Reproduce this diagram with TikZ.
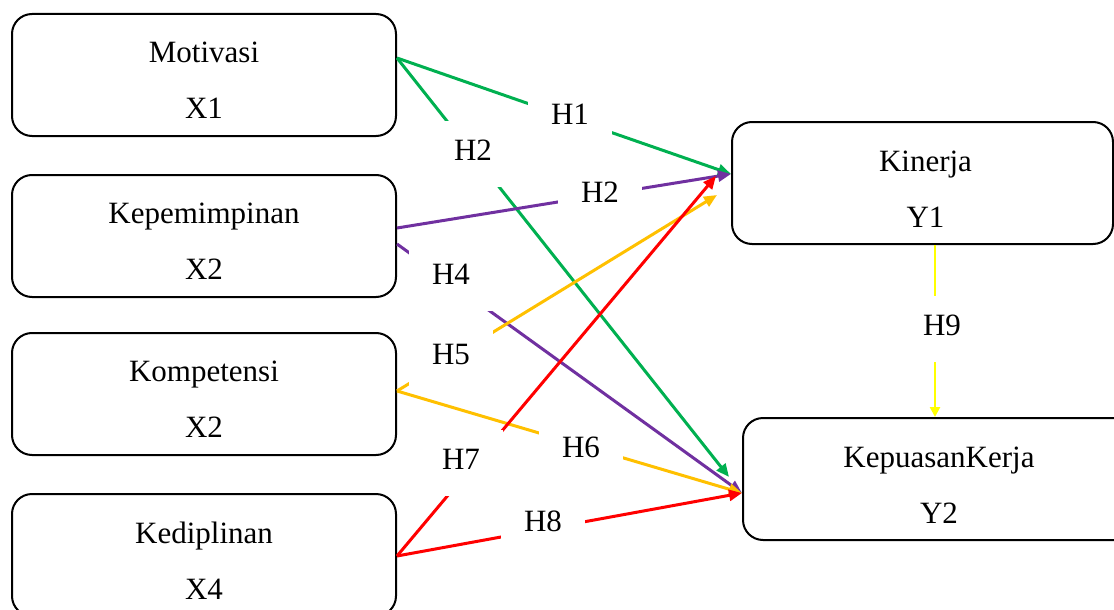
\documentclass[tikz,border=0pt]{standalone}
\usepackage{fontspec}
\setmainfont{Liberation Serif}
\usetikzlibrary{arrows.meta}
\definecolor{cgreen}{HTML}{00B050}
\definecolor{cpurple}{HTML}{7030A0}
\definecolor{corange}{HTML}{FFC000}
\definecolor{cred}{HTML}{FF0000}
\definecolor{cyellow}{HTML}{FFFF00}
\begin{document}
\begin{tikzpicture}[x=1pt,y=-1pt,
  box/.style={draw=black, line width=2pt, rounded corners=20pt, inner sep=0pt, minimum height=122pt},
  btext/.style={align=center, inner sep=0pt, font=\fontsize{31}{56}\selectfont},
  hyp/.style={fill=white, inner xsep=23pt, inner ysep=18.5pt, text height=21pt, text depth=8pt, font=\fontsize{31}{37}\selectfont},
  conn/.style={line width=3pt, -{Triangle[length=13pt,width=11pt]}},
]
\useasboundingbox (0,0) rectangle (1114,610);
\clip (0,0) rectangle (1114,610);
% boxes
\node[box, minimum width=384pt] (mot)  at (204,75)  {};
\node[box, minimum width=384pt] (kepm) at (204,236) {};
\node[box, minimum width=384pt] (kom)  at (204,394) {};
\node[box, minimum width=384pt] (ked)  at (204,555) {};
\node[box, minimum width=381pt] (kin)  at (922.5,183) {};
\node[box, minimum width=392pt] (kep)  at (939,479) {};
% box texts
\node[btext] (tmot)  at ([yshift=-5.5pt]mot.center)  {Motivasi\\X1};
\node[btext] (tkepm) at ([yshift=-5.5pt]kepm.center) {Kepemimpinan\\X2};
\node[btext] (tkom)  at ([yshift=-5.5pt]kom.center)  {Kompetensi\\X2};
\node[btext] (tked)  at ([yshift=-5.5pt]ked.center)  {Kediplinan\\X4};
\node[btext] (tkin)  at ([shift={(3pt,-6.5pt)}]kin.center)  {Kinerja\\Y1};
\node[btext] (tkep)  at ([yshift=-6.5pt]kep.center)  {KepuasanKerja\\Y2};
% connectors
\draw[conn, cgreen] ([yshift=17pt]mot.east) -- ([yshift=9pt]kin.west);
\draw[conn, cgreen] ([yshift=17pt]mot.east) -- ([shift={(-13pt,2pt)}]kep.west);
\draw[conn, cpurple] ([yshift=8pt]kepm.east) -- ([yshift=9pt]kin.west);
\draw[conn, cpurple] ([yshift=-8pt]kepm.east) -- ([yshift=-14pt]kep.west);
\draw[conn, corange] ([yshift=3pt]kom.east) -- ([shift={(-14pt,-12pt)}]kin.west);
\draw[conn, corange] ([yshift=3pt]kom.east) -- ([yshift=-14pt]kep.west);
\draw[conn, cred] ([yshift=-1pt]ked.east) -- ([shift={(-15pt,7pt)}]kin.west);
\draw[conn, cred] ([yshift=-1pt]ked.east) -- ([yshift=-14pt]kep.west);
\draw[line width=2.5pt, cyellow, -{Triangle[length=10pt,width=10pt]}] ([xshift=12.5pt]kin.south) -- ([xshift=12.5pt]kin.south |- kep.north);
% hypothesis labels
\node[hyp] (h1)  at (570,118) {H1};
\node[hyp] (h2a) at (473,154) {H2};
\node[hyp] (h2b) at (600,196) {H2};
\node[hyp] (h4)  at (451,278) {H4};
\node[hyp] (h5)  at (451,358) {H5};
\node[hyp] (h6)  at (581,451) {H6};
\node[hyp] (h7)  at (461,463) {H7};
\node[hyp] (h8)  at (543,525) {H8};
\node[hyp] (h9)  at (942,329) {H9};
\end{tikzpicture}
\end{document}
